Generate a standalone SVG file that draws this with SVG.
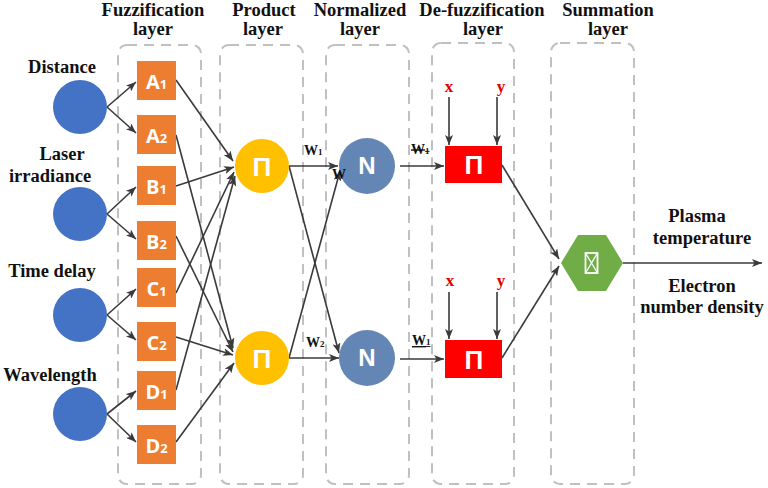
<svg xmlns="http://www.w3.org/2000/svg" width="768" height="488" viewBox="0 0 768 488">
<style>
.hdr{font-family:'Liberation Serif','DejaVu Serif',serif;font-weight:bold;font-size:18.5px;fill:#111;text-anchor:middle}
.lbl{font-family:'Liberation Serif','DejaVu Serif',serif;font-weight:bold;font-size:18.5px;fill:#111;text-anchor:middle}
.w{font-family:'Liberation Serif','DejaVu Serif',serif;font-weight:bold;font-size:14px;fill:#111}
.xy{font-family:'Liberation Serif','DejaVu Serif',serif;font-weight:bold;font-size:17px;fill:#E00000;text-anchor:middle}
.col{fill:none;stroke:#C0C0C0;stroke-width:2;stroke-dasharray:10 7}
.box{fill:#ED7D31}
.bt{font-family:'Open Sans','Liberation Sans',sans-serif;font-weight:bold;font-size:20px;fill:#fff;text-anchor:middle}
.sym{font-family:'Liberation Sans',Arial,sans-serif;font-weight:bold;fill:#fff;text-anchor:middle}
.c line{stroke:#3A3A3A;stroke-width:1.6;marker-end:url(#ah)}
</style>
<defs>
<marker id="ah" markerUnits="userSpaceOnUse" markerWidth="10" markerHeight="8" refX="10" refY="4" orient="auto">
<path d="M0,0 L10,4 L0,8 L2.5,4 z" fill="#3A3A3A"/>
</marker>
</defs>

<g id="headers">
<text class="hdr" x="153" y="16">Fuzzification</text><text class="hdr" x="153" y="35">layer</text>
<text class="hdr" x="264" y="16">Product</text><text class="hdr" x="263" y="35">layer</text>
<text class="hdr" x="360" y="16">Normalized</text><text class="hdr" x="360" y="35">layer</text>
<text class="hdr" x="482" y="16">De-fuzzification</text><text class="hdr" x="483" y="35">layer</text>
<text class="hdr" x="608" y="16">Summation</text><text class="hdr" x="608" y="35">layer</text>
</g>

<g id="layer-frames">
<rect class="col" x="118" y="45" width="83" height="439" rx="9"/>
<rect class="col" x="220" y="45" width="83" height="439" rx="9"/>
<rect class="col" x="326" y="45" width="83" height="439" rx="9"/>
<rect class="col" x="432" y="43" width="82" height="441" rx="9"/>
<rect class="col" x="551" y="43" width="83" height="441" rx="9"/>
</g>

<g id="connectors" class="c">
<line x1="107" y1="107" x2="136" y2="82"/>
<line x1="107" y1="107" x2="136" y2="133"/>
<line x1="107" y1="214" x2="136" y2="187"/>
<line x1="107" y1="214" x2="136" y2="239"/>
<line x1="107" y1="315" x2="136" y2="289"/>
<line x1="107" y1="315" x2="136" y2="340"/>
<line x1="107" y1="414" x2="136" y2="391"/>
<line x1="107" y1="414" x2="136" y2="442"/>

<line x1="176" y1="80" x2="233" y2="161"/>
<line x1="176" y1="186" x2="234" y2="167"/>
<line x1="176" y1="293" x2="234" y2="172"/>
<line x1="176" y1="390" x2="235" y2="176"/>
<line x1="176" y1="135" x2="233" y2="348"/>
<line x1="176" y1="236" x2="233" y2="352"/>
<line x1="176" y1="337" x2="233" y2="355"/>
<line x1="176" y1="442" x2="234" y2="363"/>

<line x1="289" y1="166" x2="338" y2="166"/>
<line x1="289" y1="166" x2="339" y2="353"/>
<line x1="289" y1="358" x2="339" y2="358"/>
<line x1="289" y1="358" x2="340" y2="171"/>

<line x1="400" y1="166" x2="444" y2="166"/>
<line x1="400" y1="359" x2="444" y2="359"/>

<line x1="449" y1="97" x2="449" y2="145"/>
<line x1="497" y1="97" x2="497" y2="145"/>
<line x1="449" y1="292" x2="449" y2="339"/>
<line x1="497" y1="292" x2="497" y2="339"/>

<line x1="502" y1="165" x2="559" y2="259"/>
<line x1="502" y1="358" x2="559" y2="266"/>
<line x1="623" y1="263" x2="762" y2="263"/>
</g>

<g id="in-distance"><circle cx="80" cy="107" r="27" fill="#4472C4"/><text class="lbl" x="62" y="73">Distance</text></g>
<g id="in-laser"><circle cx="80" cy="214" r="27" fill="#4472C4"/><text class="lbl" x="62" y="160">Laser</text><text class="lbl" x="50" y="182">irradiance</text></g>
<g id="in-time"><circle cx="80" cy="315" r="27" fill="#4472C4"/><text class="lbl" x="52" y="277">Time delay</text></g>
<g id="in-wave"><circle cx="80" cy="414" r="27" fill="#4472C4"/><text class="lbl" x="50" y="381">Wavelength</text></g>

<g id="A1"><rect class="box" x="137" y="61" width="39" height="39"/><text class="bt" x="156.5" y="89">A<tspan font-size="13">1</tspan></text></g>
<g id="A2"><rect class="box" x="137" y="115" width="39" height="39"/><text class="bt" x="156.5" y="143">A<tspan font-size="13">2</tspan></text></g>
<g id="B1"><rect class="box" x="137" y="166" width="39" height="39"/><text class="bt" x="156.5" y="194">B<tspan font-size="13">1</tspan></text></g>
<g id="B2"><rect class="box" x="137" y="221" width="39" height="39"/><text class="bt" x="156.5" y="249">B<tspan font-size="13">2</tspan></text></g>
<g id="C1"><rect class="box" x="137" y="268" width="39" height="39"/><text class="bt" x="156.5" y="296">C<tspan font-size="13">1</tspan></text></g>
<g id="C2"><rect class="box" x="137" y="322" width="39" height="39"/><text class="bt" x="156.5" y="350">C<tspan font-size="13">2</tspan></text></g>
<g id="D1"><rect class="box" x="137" y="371" width="39" height="39"/><text class="bt" x="156.5" y="399">D<tspan font-size="13">1</tspan></text></g>
<g id="D2"><rect class="box" x="137" y="425" width="39" height="39"/><text class="bt" x="156.5" y="453">D<tspan font-size="13">2</tspan></text></g>

<g id="P1"><circle cx="262" cy="166" r="27" fill="#FFC000"/><text class="sym" x="262" y="176" font-size="26">Π</text></g>
<g id="P2"><circle cx="262" cy="358" r="27" fill="#FFC000"/><text class="sym" x="262" y="368" font-size="26">Π</text></g>

<g id="N1"><circle cx="367" cy="166" r="28" fill="#6386B4"/><text class="sym" x="367" y="174" font-size="24">N</text></g>
<g id="N2"><circle cx="367" cy="358" r="28" fill="#6386B4"/><text class="sym" x="367" y="366" font-size="24">N</text></g>

<g id="weights">
<text class="w" x="304" y="155">W<tspan font-size="9">1</tspan></text>
<text class="w" x="332" y="179">W</text>
<text class="w" x="306" y="347">W<tspan font-size="9">2</tspan></text>
<text class="w" x="411" y="154" text-decoration="line-through">W<tspan font-size="9">1</tspan></text>
<text class="w" x="412" y="345" text-decoration="underline">W<tspan font-size="9">1</tspan></text>
</g>

<g id="D-top"><rect x="445" y="146" width="57" height="37" fill="#FF0000"/><text class="sym" x="474" y="174" font-size="26">Π</text>
<text class="xy" x="449" y="92">x</text><text class="xy" x="501" y="92">y</text></g>
<g id="D-bot"><rect x="445" y="340" width="57" height="38" fill="#FF0000"/><text class="sym" x="474" y="369" font-size="26">Π</text>
<text class="xy" x="450" y="286">x</text><text class="xy" x="501" y="286">y</text></g>

<g id="sum"><polygon points="561,263 578,235 606,235 623,263 606,291 578,291" fill="#70AD47"/>
<g fill="none" stroke="#fff" stroke-width="1.8"><rect x="585.5" y="253" width="12" height="20"/><path d="M585.5,253 L597.5,273 M597.5,253 L585.5,273" stroke-width="1.3"/></g></g>

<g id="outputs">
<text class="lbl" x="697" y="222">Plasma</text>
<text class="lbl" x="702" y="244">temperature</text>
<text class="lbl" x="702" y="292">Electron</text>
<text class="lbl" x="702" y="313">number density</text>
</g>
</svg>
